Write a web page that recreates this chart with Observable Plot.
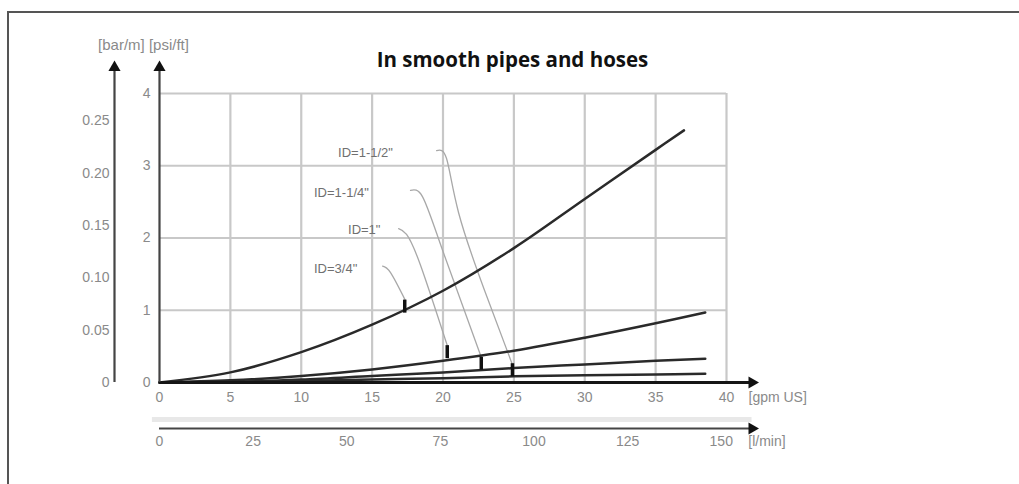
<!DOCTYPE html>
<html>
<head>
<meta charset="utf-8">
<script src="https://cdn.jsdelivr.net/npm/d3@7"></script>
<script src="https://cdn.jsdelivr.net/npm/@observablehq/plot@0.6"></script>
<style>
  html, body { margin: 0; padding: 0; background: #fff; }
  #wrap { position: relative; width: 1019px; height: 484px; overflow: hidden; }
  #box { position: absolute; left: 7px; top: 11px; width: 2000px; height: 2000px;
         border-left: 2px solid #555; border-top: 2px solid #555; }
  #title { position: absolute; left: 0; width: 1025px; top: 45px; text-align: center;
           font-family: "Open Sans", sans-serif; font-weight: 700; font-size: 20.5px; color: #111; }
  #chart { position: absolute; left: 0; top: 0; }
</style>
</head>
<body>
<div id="wrap">
  <div id="box"></div>
  <div id="chart"></div>
  <div id="title">In smooth pipes and hoses</div>
</div>
<script>
// ---- data ----
const gpmTicks = [0, 5, 10, 15, 20, 25, 30, 35, 40];
const lpmTicks = [0, 25, 50, 75, 100, 125, 150];
const psiTicks = [0, 1, 2, 3, 4];
const barTicks = [0, 0.05, 0.10, 0.15, 0.20, 0.25];
const barTickLabels = ["0", "0.05", "0.10", "0.15", "0.20", "0.25"];
const unitFlowUS = "[gpm US]";
const unitFlowMetric = "[l/min]";
const unitLossMetric = "[bar/m]";
const unitLossUS = "[psi/ft]";
const LPM_PER_GPM = 3.785;
const BAR_PER_UNIT = 0.069;

// flow (gpm US) and pressure loss (psi/ft scale)
const flow34 = [0, 5, 10, 15, 20, 25, 30, 35, 37];
const loss34 = [0, 0.14, 0.42, 0.80, 1.27, 1.86, 2.54, 3.22, 3.49];
const flowBig = [0, 5, 10, 15, 20, 25, 30, 35, 38.5];
const loss1 = [0, 0.03, 0.09, 0.18, 0.30, 0.44, 0.62, 0.82, 0.97];
const loss114 = [0, 0.01, 0.04, 0.09, 0.14, 0.20, 0.25, 0.30, 0.33];
const loss112 = [0, 0.005, 0.02, 0.04, 0.06, 0.085, 0.10, 0.11, 0.12];

// size labels, markers and leader lines
const sizeNames = ['ID=1-1/2"', 'ID=1-1/4"', 'ID=1"', 'ID=3/4"'];
const labelFlow = [12.6, 10.9, 13.3, 10.9];
const labelLoss = [3.18, 2.63, 2.12, 1.58];
const markerFlow = [24.9, 22.7, 20.3, 17.3];
const markerLoss = [0.08, 0.17, 0.33, 0.96];
const leaderFlow = [
  [19.55, 20.25, 21.1, 22.94, 24.91],
  [17.71, 18.56, 19.97, 22.72],
  [16.87, 17.43, 18.42, 20.32],
  [15.74, 16.3, 17.36]
];
const leaderLoss = [
  [3.21, 3.10, 2.35, 1.27, 0.24],
  [2.66, 2.57, 1.83, 0.34],
  [2.13, 2.05, 1.62, 0.50],
  [1.61, 1.52, 1.13]
];

// ---- build tables ----
const series = [
  ...flow34.map((f, i) => ({s: "3/4", f, v: loss34[i]})),
  ...flowBig.map((f, i) => ({s: "1", f, v: loss1[i]})),
  ...flowBig.map((f, i) => ({s: "1-1/4", f, v: loss114[i]})),
  ...flowBig.map((f, i) => ({s: "1-1/2", f, v: loss112[i]}))
];
const leaders = leaderFlow.flatMap((xs, k) => xs.map((f, i) => ({k, f, v: leaderLoss[k][i]})));
const labels = sizeNames.map((t, i) => ({t, f: labelFlow[i], v: labelLoss[i]}));
const markers = markerFlow.map((f, i) => ({f, v: markerLoss[i]}));

const xEnd = 41.8;   // axis arrow extent
const yEnd = 4.36;
const txt = {fontFamily: "'Liberation Sans', Arial, sans-serif", fontSize: 14, fill: "#8a8a8a"};

const chart = Plot.plot({
  width: 1019,
  height: 484,
  marginLeft: 159,
  marginRight: 293,
  marginTop: 93,
  marginBottom: 102,
  x: {domain: [0, 40], axis: null},
  y: {domain: [0, 4], axis: null},
  style: {background: "transparent", overflow: "visible"},
  marks: [
    // grid
    Plot.ruleX(gpmTicks.slice(1), {y1: 0, y2: 4, stroke: "#c8c8c8", strokeWidth: 2.2}),
    Plot.ruleY(psiTicks.slice(1), {x1: 0, x2: 40, stroke: "#c8c8c8", strokeWidth: 2.2}),
    // faint band between the two flow axes
    Plot.ruleY([0], {x1: -0.5, x2: xEnd, dy: 37, stroke: "#e8e8e8", strokeWidth: 5}),
    // leader lines
    Plot.line(leaders, {x: "f", y: "v", z: "k", curve: "natural", stroke: "#a8a8a8", strokeWidth: 1.3}),
    // curves
    Plot.line(series, {x: "f", y: "v", z: "s", curve: "catmull-rom", stroke: "#2a2a2a", strokeWidth: 2.5}),
    // markers
    Plot.ruleX(markers, {x: "f", y1: "v", y2: d => d.v + 0.18, stroke: "#111", strokeWidth: 3.5}),
    // size labels
    Plot.text(labels, {x: "f", y: "v", text: "t", textAnchor: "start", ...txt, fontSize: 13, fill: "#707070"}),
    // flow axis (gpm)
    Plot.ruleY([0], {x1: 0, x2: xEnd, stroke: "#151515", strokeWidth: 3.2}),
    Plot.dot([xEnd], {x: d => d, y: 0, symbol: "triangle", rotate: 90, r: 4.5, fill: "#111", stroke: null}),
    Plot.text(gpmTicks, {x: d => d, y: 0, dy: 15, text: d => String(d), ...txt}),
    Plot.text([unitFlowUS], {x: 40, y: 0, dx: 22, dy: 15, text: d => d, textAnchor: "start", ...txt}),
    // flow axis (l/min)
    Plot.ruleY([0], {x1: 0, x2: xEnd, dy: 46, stroke: "#444", strokeWidth: 2.2}),
    Plot.dot([xEnd], {x: d => d, y: 0, dy: 46, symbol: "triangle", rotate: 90, r: 4.5, fill: "#111", stroke: null}),
    Plot.text(lpmTicks, {x: d => d / LPM_PER_GPM, y: 0, dy: 59, text: d => String(d), ...txt}),
    Plot.text([unitFlowMetric], {x: 150 / LPM_PER_GPM, y: 0, dx: 27, dy: 59, text: d => d, textAnchor: "start", ...txt}),
    // inner y axis (psi)
    Plot.ruleX([0], {y1: 0, y2: yEnd, stroke: "#444", strokeWidth: 2.2}),
    Plot.dot([yEnd], {x: 0, y: d => d, symbol: "triangle", r: 4.5, fill: "#111", stroke: null}),
    Plot.text(psiTicks, {x: 0, y: d => d, dx: -9, text: d => String(d), textAnchor: "end", ...txt}),
    // outer y axis (bar)
    Plot.ruleX([0], {y1: 0, y2: yEnd, dx: -45, stroke: "#444", strokeWidth: 2.2}),
    Plot.dot([yEnd], {x: 0, y: d => d, dx: -45, symbol: "triangle", r: 4.5, fill: "#111", stroke: null}),
    Plot.text(barTicks, {x: 0, y: d => d / BAR_PER_UNIT, dx: -50, text: (d, i) => barTickLabels[i], textAnchor: "end", ...txt}),
    // unit headers
    Plot.text([unitLossMetric + " " + unitLossUS], {x: 0, y: 4, dx: -16, dy: -48, text: d => d, ...txt, fontSize: 15})
  ]
});
document.getElementById("chart").appendChild(chart);
</script>
</body>
</html>
